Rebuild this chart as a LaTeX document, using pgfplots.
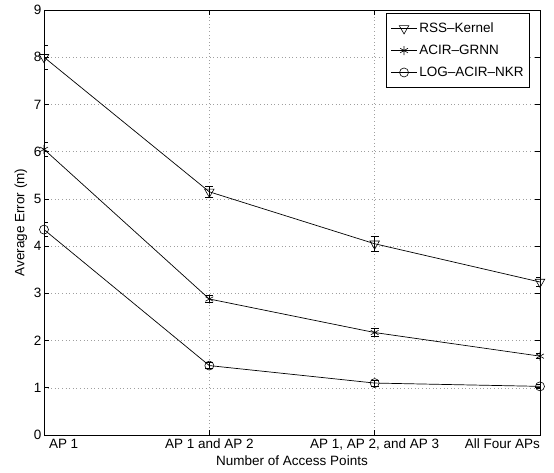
\documentclass[border=0pt]{standalone}
\usepackage{fontspec}
\setmainfont{Liberation Sans}
\usepackage{pgfplots}
\pgfplotsset{compat=1.18}

\begin{document}
\begin{tikzpicture}
\useasboundingbox (-44pt,-37pt) rectangle (510pt,435pt);
\begin{axis}[
    scale only axis,
    width=496pt,
    height=425pt,
    xmin=1, xmax=4,
    ymin=0, ymax=9,
    xtick={1,2,3,4},
    xticklabels={\makebox[0pt][l]{\hspace{5pt}AP 1},AP 1 and AP 2,{AP 1, AP 2, and AP 3},\makebox[0pt][r]{All Four APs}},
    ytick={0,1,...,9},
    tick align=inside,
    major tick length=5pt,
    grid=major,
    major grid style={dash pattern=on 0.8pt off 2.8pt, gray!75, line width=0.5pt},
    axis line style={line width=1pt},
    every tick/.style={black, line width=0.6pt},
    font=\fontsize{13.5}{15}\selectfont,
    tick label style={font=\fontsize{13.5}{15}\selectfont},
    /pgf/number format/assume math mode=true,
    xticklabel style={anchor=base, yshift=-13pt},
    yticklabel style={xshift=1pt},
    xlabel={Number of Access Points},
    ylabel={Average Error (m)},
    xlabel style={at={(axis description cs:0.5,0)}, anchor=base, yshift=-30pt},
    ylabel style={at={(axis description cs:0,0.5)}, anchor=center, yshift=23pt},
    legend cell align=left,
    legend style={at={(rel axis cs:0.98,0.992)}, anchor=north east,
        draw=black, line width=0.8pt, row sep=7pt,
        font=\fontsize{13.5}{15}\selectfont, inner xsep=4pt, inner ysep=7pt},
    legend image code/.code={
        \draw[mark repeat=2,mark phase=2,#1] plot coordinates {(0pt,0pt) (13pt,0pt) (26pt,0pt)};
    },
    every axis plot/.append style={black, line width=0.7pt},
    error bars/error mark options={rotate=90, mark size=4pt, line width=0.6pt},
]

% RSS-Kernel
\addplot[mark=triangle, mark size=5.5pt, mark options={rotate=180, solid, line width=0.6pt},
    error bars/.cd, y dir=both, y explicit] coordinates {
    (1,8.00) +- (0,0.25)
    (2,5.15) +- (0,0.12)
    (3,4.05) +- (0,0.15)
    (4,3.24) +- (0,0.10)
};
\addlegendentry{RSS\textendash Kernel}

% ACIR-GRNN
\addplot[mark=asterisk, mark size=4.5pt, mark options={solid, line width=0.6pt},
    error bars/.cd, y dir=both, y explicit] coordinates {
    (1,6.05) +- (0,0.15)
    (2,2.88) +- (0,0.08)
    (3,2.17) +- (0,0.08)
    (4,1.67) +- (0,0.05)
};
\addlegendentry{ACIR\textendash GRNN}

% LOG-ACIR-NKR
\addplot[mark=o, mark size=4.5pt, mark options={solid, line width=0.6pt},
    error bars/.cd, y dir=both, y explicit] coordinates {
    (1,4.35) +- (0,0.15)
    (2,1.47) +- (0,0.06)
    (3,1.10) +- (0,0.06)
    (4,1.03) +- (0,0.05)
};
\addlegendentry{LOG\textendash ACIR\textendash NKR}

\end{axis}
\end{tikzpicture}
\end{document}
